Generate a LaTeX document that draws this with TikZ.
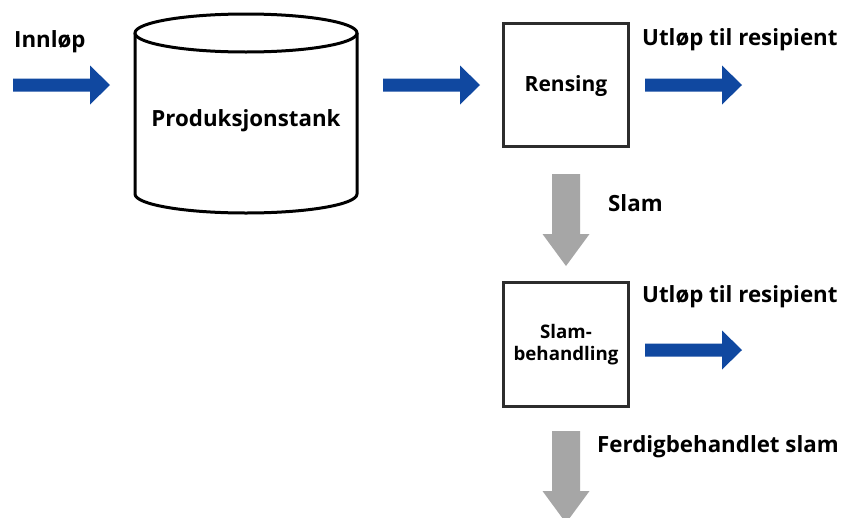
\documentclass[tikz,border=0pt]{standalone}
\usepackage{fontspec}
\setmainfont{Open Sans}[BoldFont={* Bold}]
\definecolor{flowblue}{RGB}{16,72,160}
\definecolor{sludgegray}{RGB}{166,166,166}
\definecolor{boxline}{RGB}{45,45,45}
\begin{document}
\begin{tikzpicture}[x=1pt,y=-1pt,
  lbl/.style={font=\bfseries\fontsize{22.3}{26}\selectfont, inner sep=0pt, text=black},
  boxlbl/.style={font=\bfseries\fontsize{21}{25}\selectfont, inner sep=0pt, text=black},
  smalllbl/.style={font=\bfseries\fontsize{18.7}{22}\selectfont, inner sep=0pt, text=black, align=center},
  procbox/.style={draw=boxline, line width=3pt, fill=white},
  rarrow/.pic={\fill[flowblue] (0,-6.5) -- (77,-6.5) -- (77,-19.5) -- (97,0) -- (77,19.5) -- (77,6.5) -- (0,6.5) -- cycle;},
  darrow/.pic={\fill[sludgegray] (-14,0) -- (14,0) -- (14,60) -- (23.5,60) -- (0,92) -- (-23.5,60) -- (-14,60) -- cycle;}
]
\useasboundingbox (0,0) rectangle (842,517);
\fill[white] (0,0) rectangle (842,517);

% cylinder
\draw[line width=3pt, fill=white] (135,33) -- (135,194) arc[start angle=180, end angle=0, x radius=111, y radius=19] -- (357,33);
\draw[line width=3pt, fill=white] (246,33) ellipse [x radius=111, y radius=19];
\node[lbl, anchor=base] (tank) at (246,126) {Produksjonstank};

% boxes
\draw[procbox] (503,23) rectangle (628,146);
\node[boxlbl, anchor=base] (rens) at (566,91) {Rensing};
\draw[procbox] (503,282) rectangle (628,406);
\node[smalllbl, anchor=base] (slam1) at (566,338) {Slam-};
\node[smalllbl, anchor=base] (slam2) at (566,360) {behandling};

% arrows
\pic at (13,85) {rarrow};
\pic at (383,85) {rarrow};
\pic at (645,85) {rarrow};
\pic at (645,350) {rarrow};
\pic at (566,174) {darrow};
\pic at (566,431) {darrow};

% labels
\node[lbl, anchor=base west] (inn) at (14,47) {Innløp};
\node[lbl, anchor=base west] (ut1) at (642,45) {Utløp til resipient};
\node[lbl, anchor=base west] (slam) at (608,211) {Slam};
\node[lbl, anchor=base west] (ut2) at (642,302) {Utløp til resipient};
\node[lbl, anchor=base west] (ferdig) at (597,452) {Ferdigbehandlet slam};
\end{tikzpicture}
\end{document}
